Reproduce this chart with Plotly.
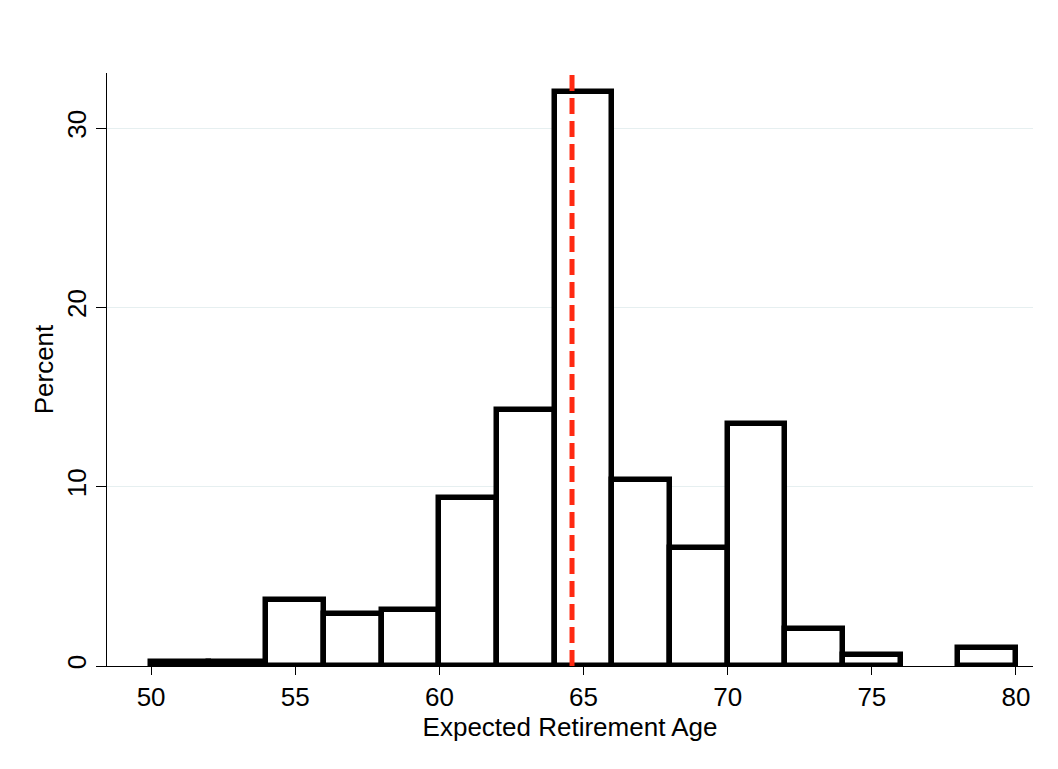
import plotly.graph_objects as go

# Histogram bins (width 2 years) and percentages
bin_left = [50, 52, 54, 56, 58, 60, 62, 64, 66, 68, 70, 72, 74, 78]
percent = [0.2, 0.2, 3.7, 2.9, 3.1, 9.35, 14.3, 32.0, 10.4, 6.6, 13.5, 2.05, 0.6, 1.0]
bin_width = 2
mean_age = 64.6

x_ticks = [50, 55, 60, 65, 70, 75, 80]
y_ticks = [0, 10, 20, 30]

centers = [b + bin_width / 2 for b in bin_left]

fig = go.Figure()
fig.add_trace(go.Bar(
    x=centers, y=percent, width=[bin_width] * len(centers),
    marker=dict(color="white", line=dict(color="black", width=5.5)),
    hoverinfo="skip",
))

fig.add_shape(type="line", xref="x", yref="paper", x0=mean_age, x1=mean_age,
              y0=0, y1=1, line=dict(color="#ff2a12", width=5, dash="16px,7px"),
              layer="above")

font_family = "Liberation Sans, Arial, Helvetica, sans-serif"

fig.update_layout(
    width=1058, height=769,
    margin=dict(l=107, r=25, t=73, b=103),
    paper_bgcolor="white", plot_bgcolor="white",
    showlegend=False,
    font=dict(family=font_family, size=26, color="black"),
    bargap=0,
)
fig.update_xaxes(
    range=[48.47, 80.59], tickvals=x_ticks, ticks="outside", ticklen=8,
    tickwidth=1, tickcolor="black", showline=True, linecolor="black",
    linewidth=1, showgrid=False, zeroline=False,
    tickfont=dict(size=26),
    title=dict(text="Expected Retirement Age", font=dict(size=26), standoff=0),
)
fig.update_yaxes(
    range=[0, 33.07], tickvals=y_ticks, ticks="outside", ticklen=10,
    tickwidth=1, tickcolor="black", showline=True, linecolor="black",
    linewidth=1, showgrid=True, gridcolor="#e6eff0", gridwidth=1,
    zeroline=False, tickangle=-90,
    tickfont=dict(size=26),
    title=dict(text="Percent", font=dict(size=26), standoff=0),
)

fig.write_html("out.html")
